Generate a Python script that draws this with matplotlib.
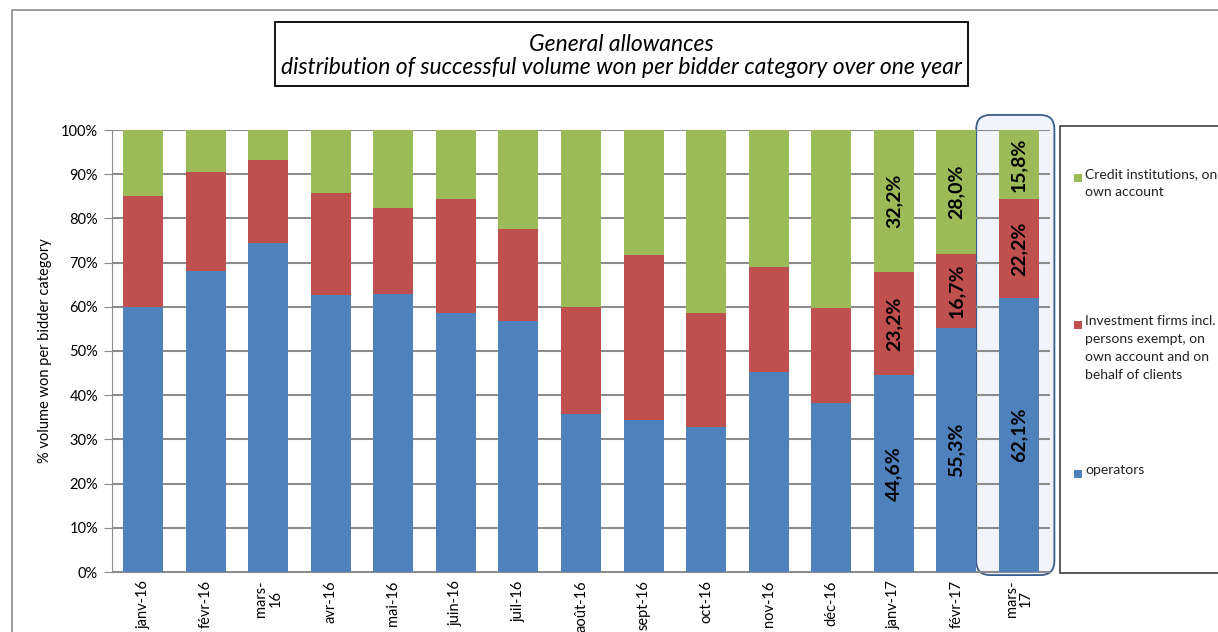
import numpy as np
import matplotlib
matplotlib.use("Agg")
import matplotlib.pyplot as plt
from matplotlib.patches import Rectangle, FancyBboxPatch

plt.rcParams['font.family'] = ['Lato', 'DejaVu Sans']

# data (percent of volume won)
months = ['janv-16', 'févr-16', 'mars-\n16', 'avr-16', 'mai-16', 'juin-16', 'juil-16',
          'août-16', 'sept-16', 'oct-16', 'nov-16', 'déc-16', 'janv-17', 'févr-17', 'mars-\n17']
operators = [60.0, 68.1, 74.4, 62.6, 63.0, 58.5, 56.8, 35.8, 34.4, 32.9, 45.2, 38.2, 44.6, 55.3, 62.1]
investment = [25.0, 22.5, 18.8, 23.2, 19.3, 26.0, 20.9, 24.2, 37.3, 25.6, 23.8, 21.6, 23.2, 16.7, 22.2]
credit = [15.0, 9.4, 6.8, 14.2, 17.7, 15.5, 22.3, 40.0, 28.3, 41.5, 31.0, 40.2, 32.2, 28.0, 15.8]
labelled = [12, 13, 14]

series_names = ['operators',
                'Investment firms incl.\npersons exempt, on\nown account and on\nbehalf of clients',
                'Credit institutions, on\nown account']
colors = ['#4f81bd', '#c0504d', '#9bbb59']

W, H = 1218, 632
fig = plt.figure(figsize=(W / 100, H / 100), dpi=100)
ax = fig.add_axes([112 / W, 1 - 572 / H, (1050 - 112) / W, (572 - 130) / H])

x = np.arange(len(months))
ax.set_xlim(-0.5, len(months) - 0.5)
ax.set_ylim(0, 100)

# highlight box around the last month
fig.canvas.draw()
x0, y0 = ax.transData.transform((x[-1] - 0.68, -0.7))
x1, y1 = ax.transData.transform((x[-1] + 0.57, 103.4))
hl = FancyBboxPatch((x0, y0), x1 - x0, y1 - y0, boxstyle="round,pad=0,rounding_size=14",
                    transform=None, facecolor='#f1f5fb', edgecolor='#385d8a', lw=1.3,
                    zorder=0.1, clip_on=False)
ax.add_patch(hl)

bottom = np.zeros(len(months))
for vals, c in zip([operators, investment, credit], colors):
    vals = np.array(vals)
    ax.bar(x, vals, width=0.64, bottom=bottom, color=c, zorder=2)
    for i in labelled:
        ax.text(x[i], bottom[i] + vals[i] / 2, f"{vals[i]:.1f}%".replace('.', ','),
                rotation=90, ha='center', va='center', fontsize=14,
                fontweight='bold', color='black', zorder=3)
    bottom += vals

ax.set_yticks(np.arange(0, 101, 10))
ax.set_yticklabels([f"{v}%" for v in range(0, 101, 10)], fontsize=10.5)
ax.yaxis.grid(True, color='#8c8c8c', lw=1.5, zorder=1)
ax.set_axisbelow(True)
ax.set_xticks(x)
ax.set_xticklabels(months, rotation=90, fontsize=10.5, va='top', linespacing=1.0)
ax.tick_params(axis='x', length=0, pad=6)
ax.tick_params(axis='y', length=6, color='#8c8c8c', pad=4)
for s in ['top', 'right']:
    ax.spines[s].set_visible(False)
for s in ['left', 'bottom']:
    ax.spines[s].set_color('#8c8c8c')
ax.set_ylabel('% volume won per bidder category', fontsize=10.5)
ax.yaxis.set_label_coords(-0.064, 0.5)

# outer chart border
fig.patches.append(Rectangle((12 / W, -0.05), 1.1, 1 - 10 / H + 0.05, transform=fig.transFigure,
                             fill=False, edgecolor='#8c8c8c', lw=1.2))

# title box
fig.patches.append(Rectangle((275 / W, 1 - 86 / H), (968 - 275) / W, 64 / H,
                             transform=fig.transFigure, facecolor='white',
                             edgecolor='black', lw=1.3))
fig.text(621 / W, 1 - 56 / H,
         'General allowances\ndistribution of successful volume won per bidder category over one year',
         ha='center', va='center', fontsize=16.5, style='italic', linespacing=1.1)

# legend box
fig.patches.append(Rectangle((1060 / W, 1 - 573 / H), 0.2, (573 - 126) / H,
                             transform=fig.transFigure, facecolor='white',
                             edgecolor='#404040', lw=1.2))
legend_y = [464, 315, 168]
for name, c, ly in zip(series_names, colors, legend_y):
    fig.patches.append(Rectangle((1074 / W, 1 - (ly + 14) / H), 8 / W, 8 / H,
                                 transform=fig.transFigure, facecolor=c, edgecolor='none'))
    fig.text(1085 / W, 1 - ly / H, name, ha='left', va='top', fontsize=10,
             linespacing=1.6, color='#222222')

fig.savefig('out.png', dpi=100)
